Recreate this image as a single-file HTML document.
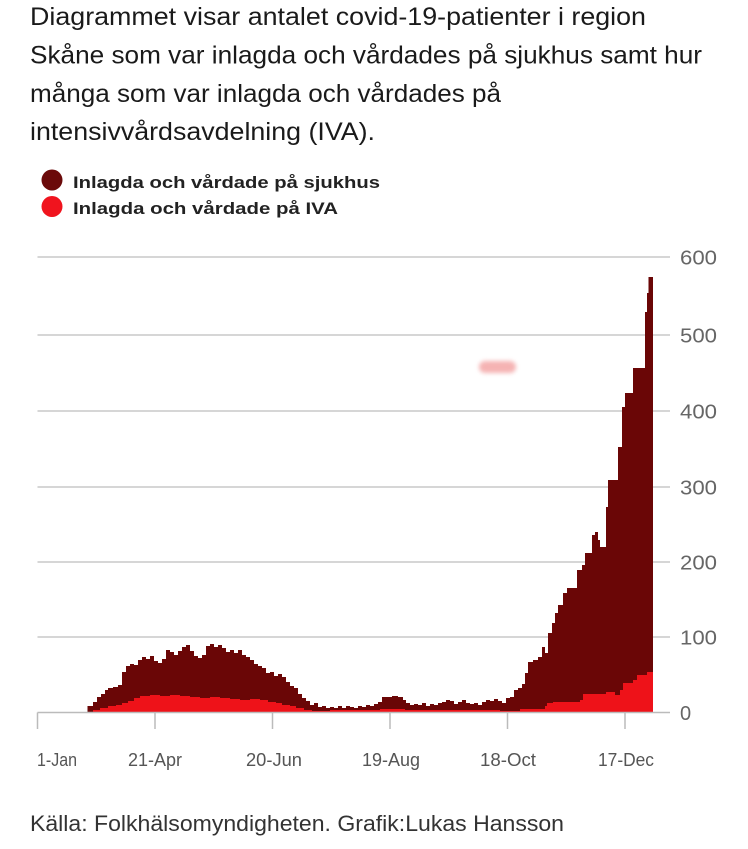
<!DOCTYPE html>
<html>
<head>
<meta charset="utf-8">
<style>
  html,body{margin:0;padding:0;background:#fff;}
  svg{display:block;}
</style>
</head>
<body>
<svg width="748" height="849" viewBox="0 0 748 849" xmlns="http://www.w3.org/2000/svg">
  <defs>
    <filter id="blur" x="-50%" y="-100%" width="200%" height="300%">
      <feGaussianBlur stdDeviation="2"/>
    </filter>
  </defs>
  <rect width="748" height="849" fill="#ffffff"/>

  <!-- Title -->
  <g font-family="Liberation Sans, sans-serif" font-size="25" fill="#1a1a1a">
    <text x="30" y="25" textLength="616" lengthAdjust="spacingAndGlyphs">Diagrammet visar antalet covid-19-patienter i region</text>
    <text x="30" y="63.5" textLength="672" lengthAdjust="spacingAndGlyphs">Skåne som var inlagda och vårdades på sjukhus samt hur</text>
    <text x="30" y="102" textLength="471" lengthAdjust="spacingAndGlyphs">många som var inlagda och vårdades på</text>
    <text x="30" y="140" textLength="345" lengthAdjust="spacingAndGlyphs">intensivvårdsavdelning (IVA).</text>
  </g>

  <!-- Legend -->
  <circle cx="52" cy="180" r="10.5" fill="#6b0a0a"/>
  <circle cx="52" cy="206.5" r="10.5" fill="#f0141e"/>
  <g font-family="Liberation Sans, sans-serif" font-size="17" font-weight="bold" fill="#222">
    <text x="73" y="188" textLength="307" lengthAdjust="spacingAndGlyphs">Inlagda och vårdade på sjukhus</text>
    <text x="73" y="214" textLength="265" lengthAdjust="spacingAndGlyphs">Inlagda och vårdade på IVA</text>
  </g>

  <!-- Gridlines -->
  <g stroke="#c8c8c8" stroke-width="1.5">
    <line x1="37.5" y1="257" x2="670" y2="257"/>
    <line x1="37.5" y1="335" x2="670" y2="335"/>
    <line x1="37.5" y1="411" x2="670" y2="411"/>
    <line x1="37.5" y1="487" x2="670" y2="487"/>
    <line x1="37.5" y1="562" x2="670" y2="562"/>
    <line x1="37.5" y1="637" x2="670" y2="637"/>
  </g>

  <!-- Right axis labels -->
  <g font-family="Liberation Sans, sans-serif" font-size="20" fill="#666">
    <text x="680" y="264.5" textLength="37" lengthAdjust="spacingAndGlyphs">600</text>
    <text x="680" y="342.5" textLength="37" lengthAdjust="spacingAndGlyphs">500</text>
    <text x="680" y="418.5" textLength="37" lengthAdjust="spacingAndGlyphs">400</text>
    <text x="680" y="494.5" textLength="37" lengthAdjust="spacingAndGlyphs">300</text>
    <text x="680" y="569.5" textLength="37" lengthAdjust="spacingAndGlyphs">200</text>
    <text x="680" y="644.5" textLength="37" lengthAdjust="spacingAndGlyphs">100</text>
    <text x="680" y="720">0</text>
  </g>

  <!-- Pink blob -->
  <rect x="479" y="361" width="37" height="12" rx="6" fill="#f29a9a" opacity="0.75" filter="url(#blur)"/>

  <!-- Hospital (dark) -->
  <path fill="#6a0606" d="M87.5 712.5 V706 H93 V702 H97 V697 H101 V694 H105 V690 H108 V688 H113 V687 H118 V685 H122 V672 H126 V666 H130 V664 H134 V665 H138 V660 H142 V657 H146 V659 H150 V656 H154 V661 H158 V663 H162 V659 H166 V650 H170 V652 H174 V655 H178 V651 H182 V647 H186 V645 H190 V651 H194 V656 H198 V658 H202 V655 H206 V646 H210 V644 H214 V647 H218 V645 H222 V648 H226 V652 H230 V650 H234 V653 H238 V650 H242 V655 H246 V657 H250 V660 H254 V664 H258 V666 H262 V668 H266 V673 H270 V672 H274 V676 H278 V674 H282 V677 H286 V682 H290 V686 H294 V688 H298 V694 H302 V698 H306 V701 H310 V705 H314 V703 H318 V707 H322 V706 H326 V708 H330 V707 H334 V708 H338 V706 H342 V708 H346 V706 H350 V707 H354 V708 H358 V706 H362 V707 H366 V705 H370 V706 H374 V704 H378 V702 H382 V697 H392 V696 H398 V697 H403 V700 H406 V703 H410 V705 H414 V704 H418 V705 H422 V703 H426 V706 H430 V704 H434 V705 H438 V703 H442 V702 H446 V700 H450 V701 H454 V704 H458 V702 H462 V700 H466 V703 H470 V704 H474 V703 H478 V705 H482 V702 H486 V700 H490 V701 H494 V699 H498 V701 H502 V703 H506 V698 H510 V697 H514 V690 H518 V688 H522 V684 H525 V673 H528 V662 H533 V660 H538 V657 H542 V647 H545 V653 H548 V633 H552 V623 H555 V613 H558 V605 H563 V593 H567 V588 H577 V570 H582 V565 H585 V553 H592 V535 H595 V532 H598 V540 H600 V547 H606 V507 H608 V480 H618 V447 H622 V407 H625 V393 H633 V368 H645 V312 H647 V293 H648.5 V277 H653 V712.5 Z"/>

  <!-- IVA (bright red) -->
  <path fill="#ee1219" d="M93 712.5 V710 H100 V708 H108 V706 H116 V705 H122 V703 H128 V701 H134 V698 H140 V696 H150 V695 H160 V696 H170 V695 H180 V696 H190 V697 H200 V698 H210 V697 H220 V698 H230 V699 H240 V700 H250 V699 H260 V700 H268 V702 H276 V703 H282 V705 H290 V706 H296 V708 H304 V710 H312 V711 H330 V710 H380 V709 H405 V710 H500 V711 H520 V709 H545 V706 H547 V703 H553 V702 H580 V700 H583 V694 H606 V692 H615 V695 H620 V690 H623 V683 H633 V680 H637 V675 H647 V672 H653 V712.5 Z"/>

  <!-- Axis line & ticks -->
  <g stroke="#bbbbbb" stroke-width="1.5">
    <line x1="37.5" y1="712.5" x2="670" y2="712.5"/>
    <line x1="37.5" y1="712.5" x2="37.5" y2="729"/>
    <line x1="155" y1="712.5" x2="155" y2="729"/>
    <line x1="272.5" y1="712.5" x2="272.5" y2="729"/>
    <line x1="390" y1="712.5" x2="390" y2="729"/>
    <line x1="507.5" y1="712.5" x2="507.5" y2="729"/>
    <line x1="625" y1="712.5" x2="625" y2="729"/>
  </g>

  <!-- X tick labels -->
  <g font-family="Liberation Sans, sans-serif" font-size="18" fill="#555">
    <text x="37" y="766" textLength="40" lengthAdjust="spacingAndGlyphs">1-Jan</text>
    <text x="128" y="766" textLength="54" lengthAdjust="spacingAndGlyphs">21-Apr</text>
    <text x="246" y="766" textLength="56" lengthAdjust="spacingAndGlyphs">20-Jun</text>
    <text x="362" y="766" textLength="58" lengthAdjust="spacingAndGlyphs">19-Aug</text>
    <text x="480" y="766" textLength="56" lengthAdjust="spacingAndGlyphs">18-Oct</text>
    <text x="598" y="766" textLength="56" lengthAdjust="spacingAndGlyphs">17-Dec</text>
  </g>

  <!-- Footer -->
  <text x="30" y="831" font-family="Liberation Sans, sans-serif" font-size="22" fill="#333" textLength="534" lengthAdjust="spacingAndGlyphs">Källa: Folkhälsomyndigheten. Grafik:Lukas Hansson</text>
</svg>
</body>
</html>
